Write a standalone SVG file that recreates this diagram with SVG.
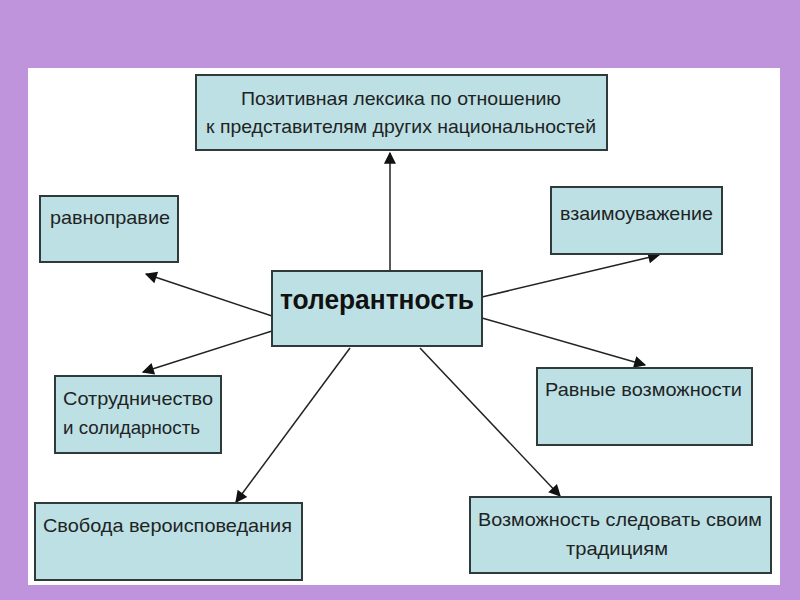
<svg xmlns="http://www.w3.org/2000/svg" width="800" height="600" viewBox="0 0 800 600">
<defs>
<style>
.box{fill:#bde0e4;stroke:#2f3a3a;stroke-width:2}
.t{font-family:"Liberation Sans",Arial,sans-serif;font-size:19px;fill:#1e2424}
.b{font-family:"Liberation Sans",Arial,sans-serif;font-size:28px;font-weight:bold;fill:#111}
.c{stroke:#222;stroke-width:1.5;fill:none;marker-end:url(#ah)}
</style>
<marker id="ah" viewBox="0 0 10 10" refX="9" refY="5" markerWidth="8" markerHeight="8" markerUnits="userSpaceOnUse" orient="auto" overflow="visible">
<path d="M0,0 L10,5 L0,10 z" fill="#111" transform="scale(1.5) translate(-3,-1.7)"/>
</marker>
</defs>
<rect width="800" height="600" fill="#bf94dd"/>
<rect x="28" y="68" width="752" height="517" fill="#ffffff"/>
<g id="connectors">
<line class="c" x1="390" y1="270" x2="390" y2="153"/>
<line class="c" x1="272" y1="316" x2="146" y2="274"/>
<line class="c" x1="272" y1="331" x2="143" y2="372"/>
<line class="c" x1="482" y1="297" x2="659" y2="255"/>
<line class="c" x1="482" y1="318" x2="645" y2="365"/>
<line class="c" x1="350" y1="348" x2="236" y2="502"/>
<line class="c" x1="420" y1="348" x2="560" y2="496"/>
</g>
<g id="n-top">
<rect class="box" x="196" y="75" width="411" height="75"/>
<text class="t" x="401" y="105" text-anchor="middle" textLength="320" lengthAdjust="spacingAndGlyphs">Позитивная лексика по отношению</text>
<text class="t" x="401" y="133" text-anchor="middle" textLength="390" lengthAdjust="spacingAndGlyphs">к представителям других национальностей</text>
</g>
<g id="n-ravnopravie">
<rect class="box" x="40" y="196" width="138" height="66"/>
<text class="t" x="50" y="224" textLength="120" lengthAdjust="spacingAndGlyphs">равноправие</text>
</g>
<g id="n-vzaimo">
<rect class="box" x="551" y="187" width="171" height="67"/>
<text class="t" x="560" y="220" textLength="153" lengthAdjust="spacingAndGlyphs">взаимоуважение</text>
</g>
<g id="n-center">
<rect class="box" x="272" y="271" width="210" height="75"/>
<text class="b" x="280" y="309" textLength="194" lengthAdjust="spacingAndGlyphs">толерантность</text>
</g>
<g id="n-sotrud">
<rect class="box" x="55" y="376" width="166" height="77"/>
<text class="t" x="63" y="405" textLength="150" lengthAdjust="spacingAndGlyphs">Сотрудничество</text>
<text class="t" x="63" y="434" textLength="137" lengthAdjust="spacingAndGlyphs">и солидарность</text>
</g>
<g id="n-ravnye">
<rect class="box" x="537" y="368" width="215" height="77"/>
<text class="t" x="545" y="396" textLength="197" lengthAdjust="spacingAndGlyphs">Равные возможности</text>
</g>
<g id="n-svoboda">
<rect class="box" x="35" y="503" width="267" height="77"/>
<text class="t" x="43" y="532" textLength="249" lengthAdjust="spacingAndGlyphs">Свобода вероисповедания</text>
</g>
<g id="n-tradicii">
<rect class="box" x="470" y="497" width="301" height="76"/>
<text class="t" x="620" y="526" text-anchor="middle" textLength="284" lengthAdjust="spacingAndGlyphs">Возможность следовать своим</text>
<text class="t" x="617" y="555" text-anchor="middle" textLength="102" lengthAdjust="spacingAndGlyphs">традициям</text>
</g>
</svg>
